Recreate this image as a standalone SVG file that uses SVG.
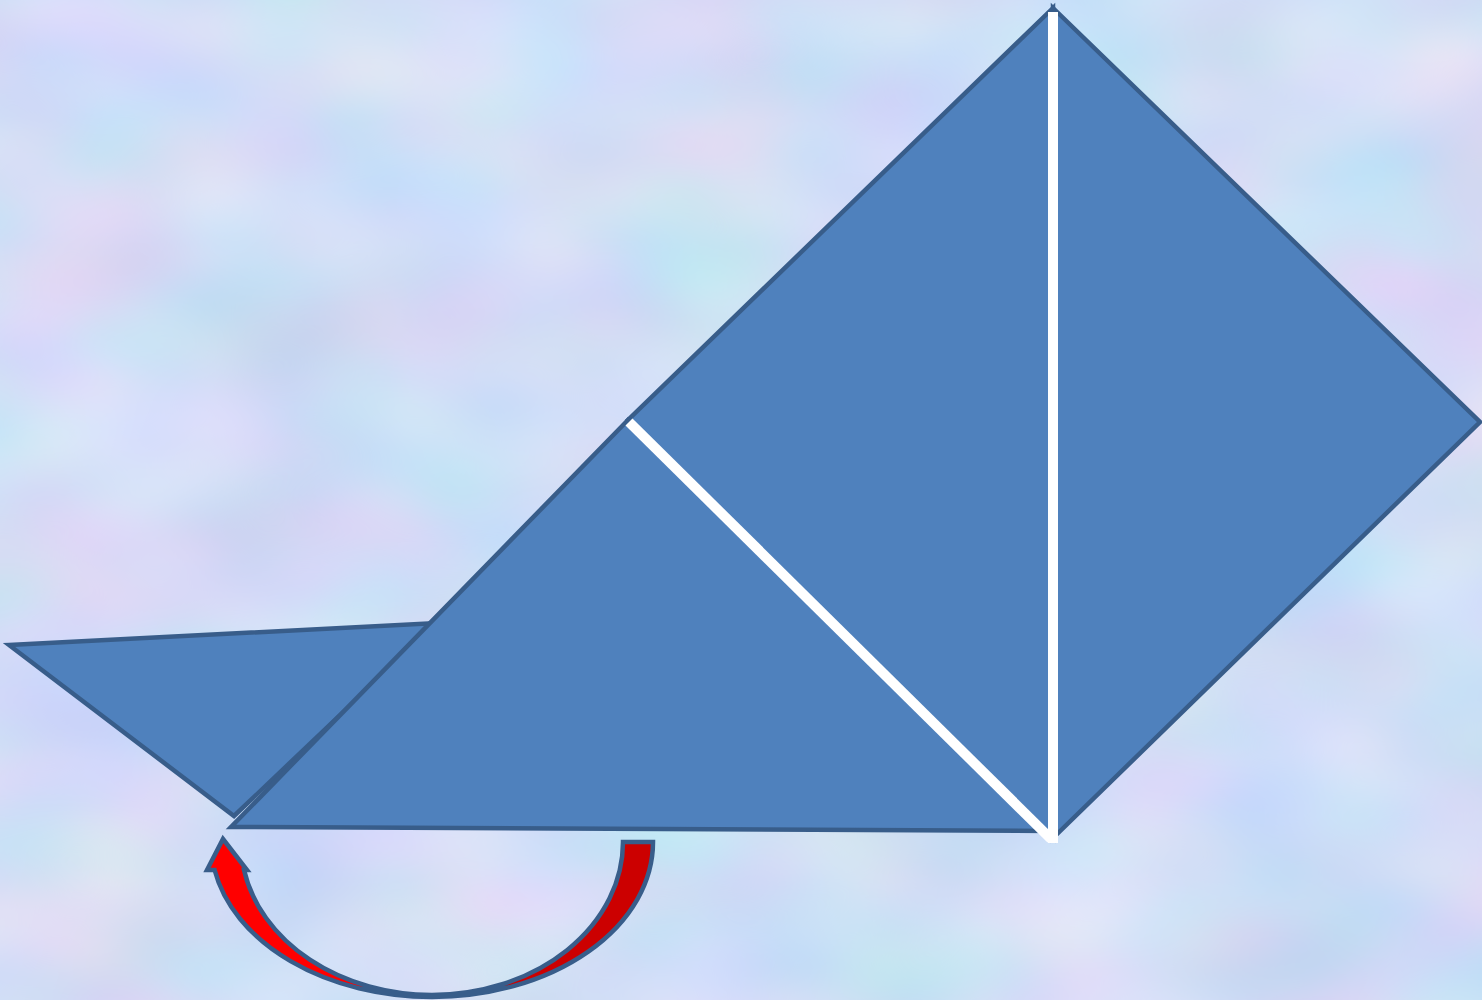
<svg xmlns="http://www.w3.org/2000/svg" width="1482" height="1000" viewBox="0 0 1482 1000">
<defs>
<filter id="tex" x="0" y="0" width="1482" height="1000" filterUnits="userSpaceOnUse" color-interpolation-filters="sRGB">
<feTurbulence type="fractalNoise" baseFrequency="0.005 0.008" numOctaves="2" seed="7" result="n"/>
<feColorMatrix in="n" type="matrix" values="0.24 0 0 0 0.7  0 0.14 0 0 0.8  0 0 0.07 0 0.93  0 0 0 0 1"/>
</filter>
<linearGradient id="arrowFill" x1="207" y1="0" x2="655" y2="0" gradientUnits="userSpaceOnUse">
<stop offset="0" stop-color="#FF0000"/>
<stop offset="0.5" stop-color="#FF0000"/>
<stop offset="0.5" stop-color="#CC0000"/>
<stop offset="1" stop-color="#CC0000"/>
</linearGradient>
</defs>
<style>
.piece{fill:#4F81BD;stroke:#385D8A;stroke-width:4.5;stroke-linejoin:miter}
.fold{stroke:#FFFFFF;stroke-width:10;fill:none}
.arrow{fill:url(#arrowFill);stroke:#385D8A;stroke-width:4.5;stroke-linejoin:miter}
</style>
<rect x="0" y="0" width="1482" height="1000" fill="#D0DDF6"/>
<rect x="0" y="0" width="1482" height="1000" filter="url(#tex)"/>
<g id="small-triangle">
<polygon class="piece" points="9,645 437,623 234,816"/>
</g>
<g id="right-triangle">
<polygon class="piece" points="1053,8 1480,422 1053,838"/>
</g>
<g id="upper-left-triangle">
<polygon class="piece" points="1053,8 628,420 1053,838"/>
</g>
<g id="big-triangle">
<polygon class="piece" points="628,420 231,827 1046,831"/>
</g>
<g id="connectors">
<line class="fold" x1="629" y1="422" x2="1051" y2="839"/>
<line class="fold" x1="1053" y1="12" x2="1053" y2="843"/>
<path class="arrow" d="M 623,842 L 653,842 A 221 155 0 0 1 432 997 A 221 155 0 0 1 214.6 870 L 207 870 L 223 839 L 247 870 L 244 870 A 191 153 0 0 0 432 995 A 191 153 0 0 0 623 842 Z"/>
</g>
</svg>
